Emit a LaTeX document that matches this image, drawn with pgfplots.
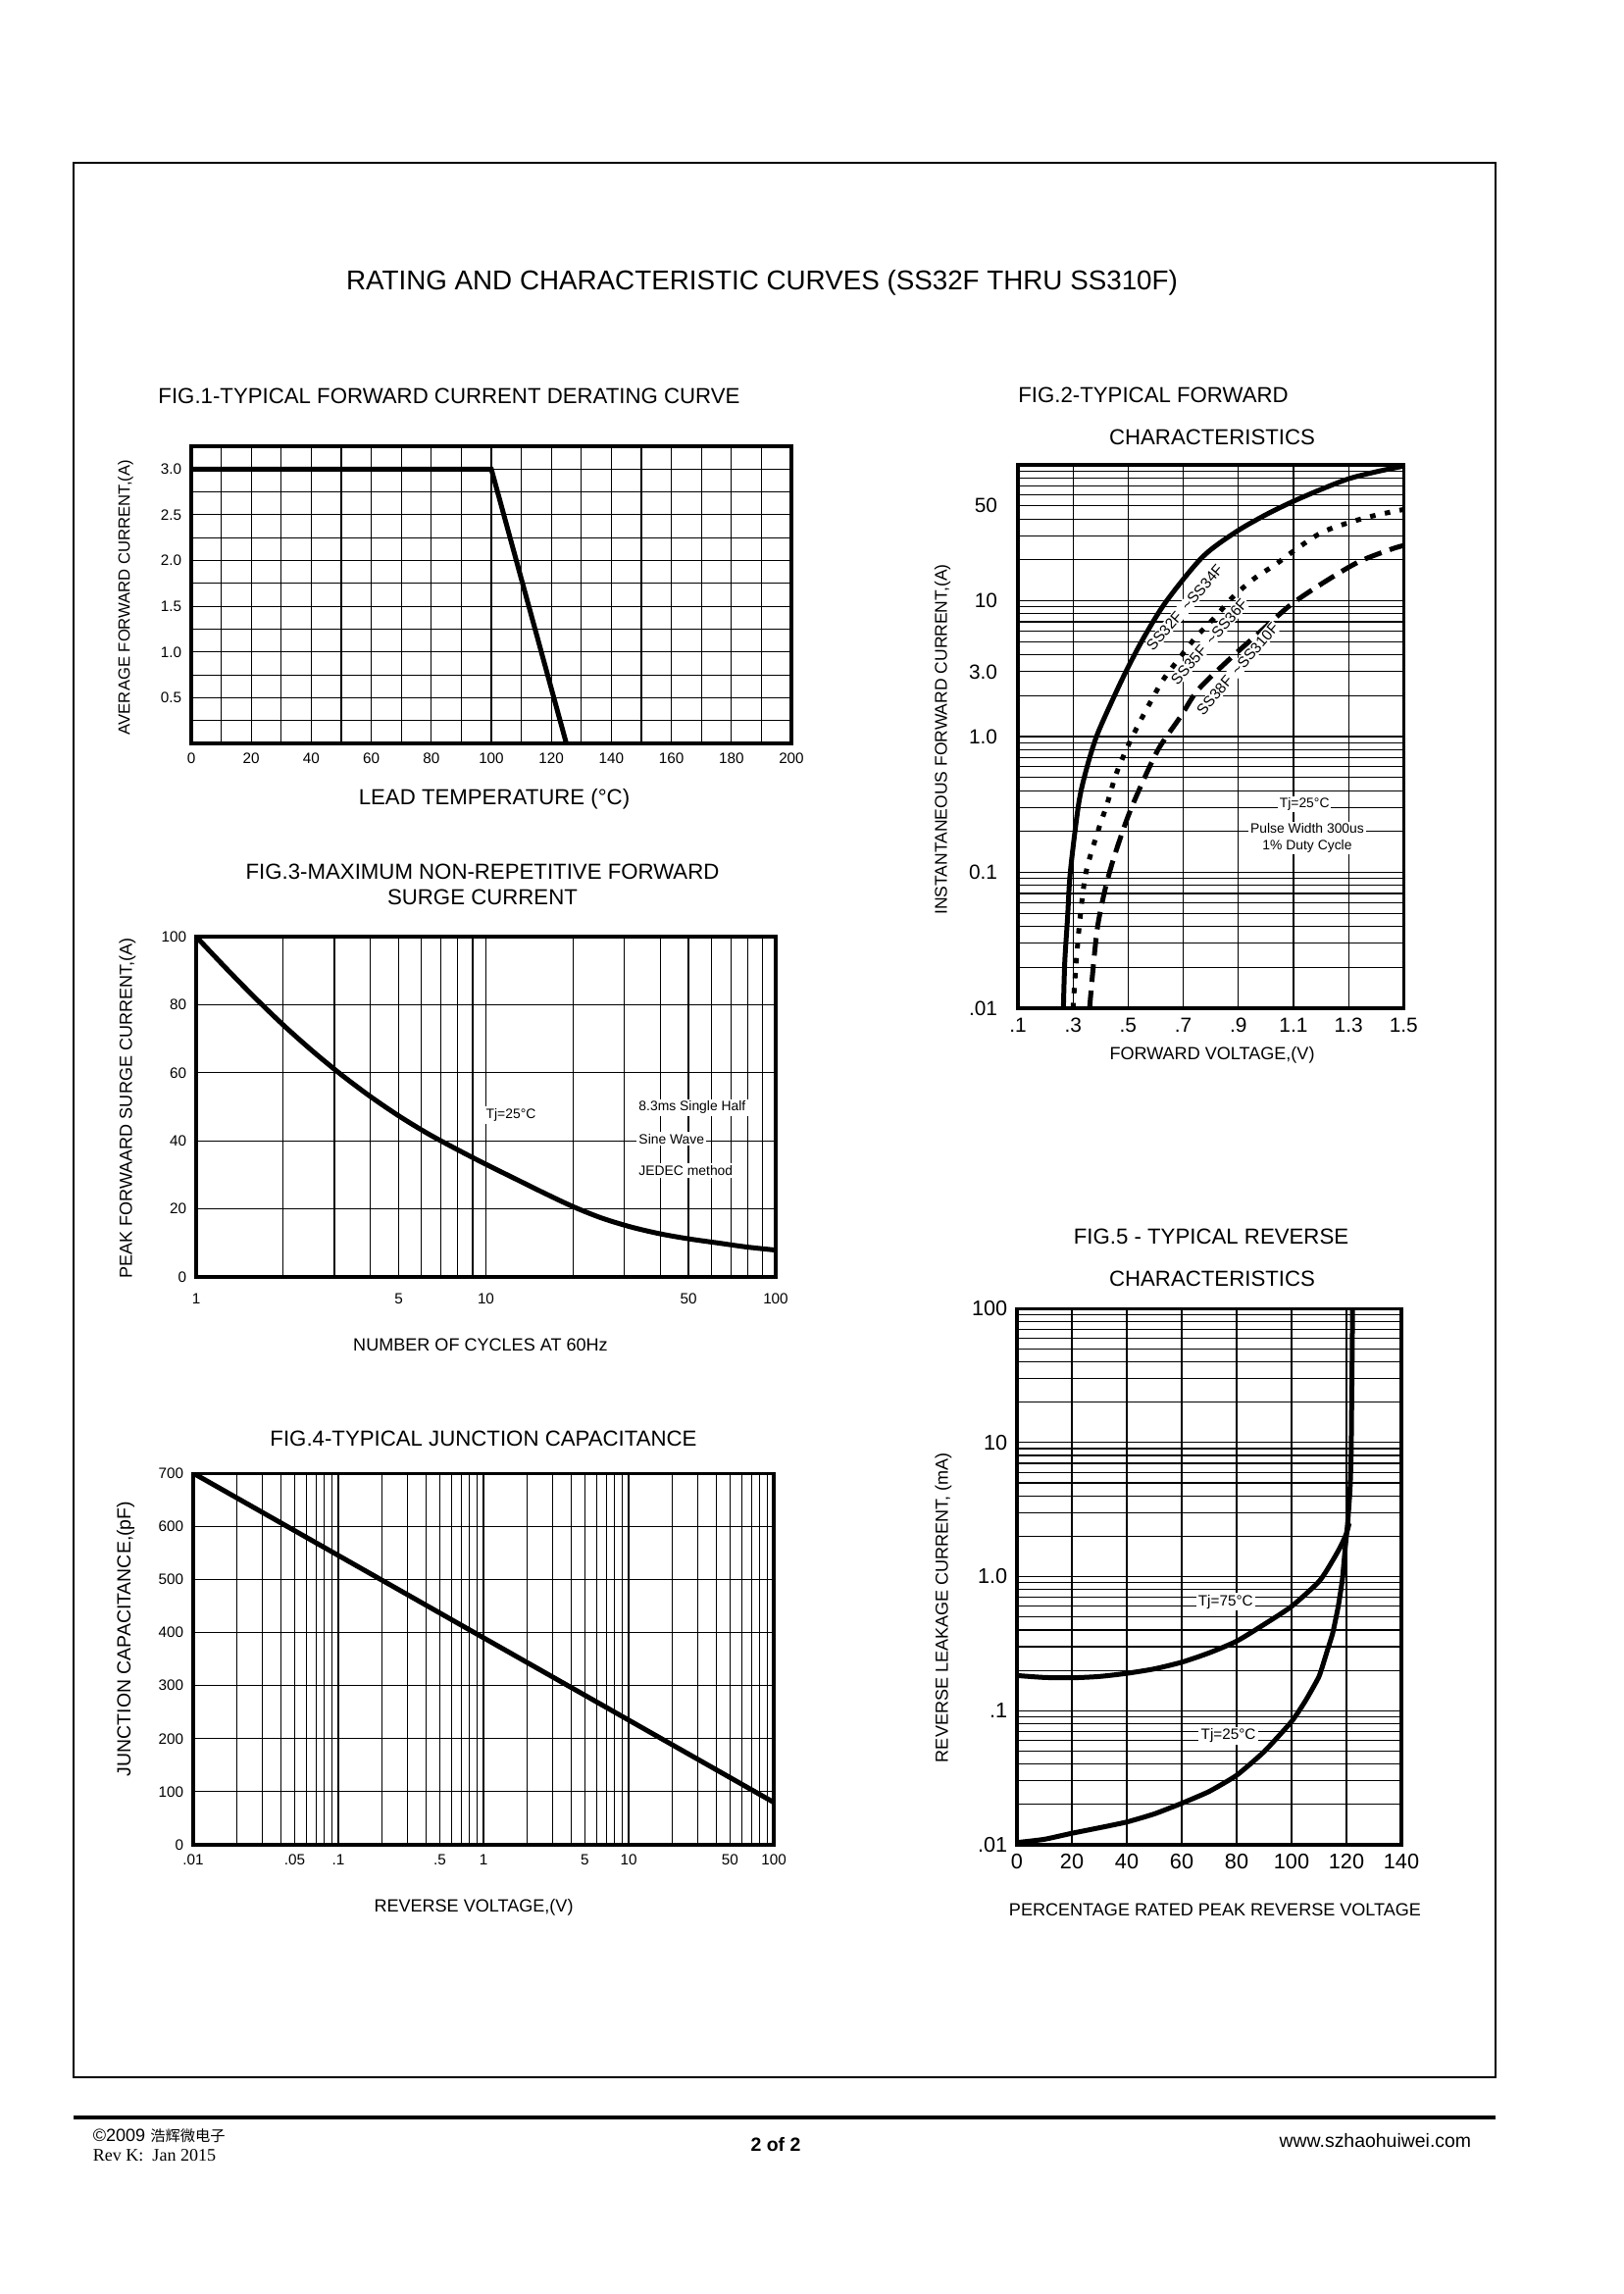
\documentclass[border=0pt]{standalone}
\usepackage{fontspec}
\setmainfont{Liberation Sans}
\newfontfamily\cjk{Noto Sans CJK SC}
\newfontfamily\seriffont{Liberation Serif}
\usepackage{pgfplots}
\pgfplotsset{compat=1.18}
\newcommand{\fs}[1]{\fontsize{#1}{#1}\selectfont}
\def\s{0.36pt}
\pgfplotsset{
  dsaxis/.style={
    scale only axis, anchor=south west,
    axis line style={line width=1.1pt},
    major tick length=0pt, minor tick length=0pt,
    grid=both,
    major grid style={black, line width=0.4pt},
    minor grid style={black, line width=0.4pt},
    /pgf/number format/assume math mode=true,
    clip=true,
  },
  logminory/.style={minor ytick={0.02,0.03,0.04,0.05,0.06,0.07,0.08,0.09,0.2,0.3,0.4,0.5,0.6,0.7,0.8,0.9,2,3,4,5,6,7,8,9,20,30,40,50,60,70,80,90}},
  curve/.style={black, line width=1.8pt, no marks},
}
\begin{document}
\begin{tikzpicture}
\path (0,0) rectangle (1656*\s,-2339*\s);
\draw[line width=0.8pt] (75*\s,-166*\s) rectangle (1525*\s,-2118*\s);
\node[font=\fs{10}] at (777*\s,-288*\s) {RATING AND CHARACTERISTIC CURVES (SS32F THRU SS310F)};

% ---------------- FIG 1
\node[font=\fs{8}] at (458*\s,-404*\s) {FIG.1-TYPICAL FORWARD CURRENT DERATING CURVE};
\begin{axis}[dsaxis, at={(70.2pt,-272.88pt)}, width=220.32pt, height=109.08pt,
  xmin=0,xmax=200,ymin=0,ymax=3.25,
  xtick={0,20,40,60,80,100,120,140,160,180,200}, minor xtick={10,30,50,70,90,110,130,150,170,190},
  ytick={0.5,1,1.5,2,2.5,3}, minor ytick={0.25,0.75,1.25,1.75,2.25,2.75},
  yticklabel style={/pgf/number format/.cd, fixed, fixed zerofill, precision=1},
  ticklabel style={font=\fs{5.5}},
]
\addplot[curve] coordinates {(0,3) (100,3) (125,0)};
\end{axis}
\node[rotate=90, font=\fs{6}] at (128*\s,-609*\s) {AVERAGE FORWARD CURRENT,(A)};
\node[font=\fs{8}] at (504*\s,-815*\s) {LEAD TEMPERATURE (°C)};

% ---------------- FIG 2
\node[font=\fs{8}] at (1176*\s,-403*\s) {FIG.2-TYPICAL FORWARD};
\node[font=\fs{8}] at (1236*\s,-446*\s) {CHARACTERISTICS};
\begin{axis}[dsaxis, logminory, at={(373.68pt,-370.08pt)}, width=141.6pt, height=199.44pt,
  xmin=0.1,xmax=1.5, ymode=log, ymin=0.01, ymax=100,
  xtick={0.1,0.3,0.5,0.7,0.9,1.1,1.3,1.5}, xticklabels={.1,.3,.5,.7,.9,1.1,1.3,1.5},
  ytick={0.01,0.1,1,3,10,50}, yticklabels={.01,0.1,1.0,3.0,10,50},
  ticklabel style={font=\fs{7.5}},
  yticklabel style={xshift=-4pt},
]
\addplot[curve, smooth, tension=0.5] coordinates {(0.265,0.01) (0.27,0.022) (0.28,0.046) (0.29,0.1) (0.32,0.316) (0.347,0.56) (0.385,1) (0.44,1.8) (0.495,3.1) (0.56,5.5) (0.64,10) (0.77,21) (0.89,32) (1.0,43) (1.1,54) (1.2,66) (1.3,79) (1.4,89) (1.5,98)};
\addplot[curve, dash pattern=on 2pt off 3.5pt, smooth, tension=0.5] coordinates {(0.30,0.01) (0.31,0.02) (0.325,0.045) (0.347,0.1) (0.39,0.2) (0.423,0.316) (0.455,0.52) (0.493,0.8) (0.535,1.2) (0.58,1.78) (0.626,2.6) (0.687,3.8) (0.746,5.4) (0.816,7.6) (0.883,10.8) (0.96,14.7) (1.035,18.5) (1.11,24) (1.2,31.6) (1.29,37) (1.386,42) (1.5,47)};
\addplot[curve, dash pattern=on 6.5pt off 3.2pt, smooth, tension=0.5] coordinates {(0.36,0.01) (0.375,0.022) (0.39,0.041) (0.417,0.076) (0.449,0.13) (0.5,0.26) (0.556,0.48) (0.613,0.83) (0.69,1.4) (0.753,2.2) (0.867,3.7) (0.975,5.8) (1.089,9.3) (1.209,13.6) (1.336,19.3) (1.456,24) (1.5,25.5)};
\node[rotate=49, fill=white, inner sep=0.5pt, font=\fs{5.5}] at (axis cs:0.705,8.9) {SS32F\hspace{0.5em}\textasciitilde SS34F};
\node[rotate=49, fill=white, inner sep=0.5pt, font=\fs{5.5}] at (axis cs:0.794,5.0) {SS35F\hspace{0.5em}\textasciitilde SS36F};
\node[rotate=49, fill=white, inner sep=0.5pt, font=\fs{5.5}] at (axis cs:0.897,3.15) {SS38F\hspace{0.5em}\textasciitilde SS310F};
\node[fill=white, inner sep=0.6pt, font=\fs{5}] at (axis cs:1.14,0.316) {Tj=25°C};
\node[fill=white, inner sep=0.6pt, font=\fs{5}, align=center] at (axis cs:1.15,0.18) {Pulse Width 300us\\[1pt]1\% Duty Cycle};
\end{axis}
\node[rotate=90, font=\fs{6.3}] at (961*\s,-754*\s) {INSTANTANEOUS FORWARD CURRENT,(A)};
\node[font=\fs{6.5}] at (1236*\s,-1076*\s) {FORWARD VOLTAGE,(V)};

% ---------------- FIG 3
\node[font=\fs{8}] at (492*\s,-889*\s) {FIG.3-MAXIMUM NON-REPETITIVE FORWARD};
\node[font=\fs{8}] at (492*\s,-915*\s) {SURGE CURRENT};
\begin{axis}[dsaxis, at={(72pt,-468.72pt)}, width=212.76pt, height=124.92pt,
  xmode=log, xmin=1, xmax=100, ymin=0, ymax=100,
  xtick={1,5,10,50,100}, xticklabels={1,5,10,50,100},
  minor xtick={2,3,4,6,7,8,9,20,30,40,60,70,80,90},
  ytick={0,20,40,60,80,100}, ymajorgrids=true, yminorgrids=false,
  ticklabel style={font=\fs{5.5}},
  xticklabel style={yshift=-2.5pt},
]
\addplot[curve, smooth, tension=0.5] coordinates {(1,100) (1.259,91) (1.585,82.3) (1.995,74.1) (2.512,66.5) (3.162,59.5) (3.981,53.1) (5.012,47.3) (6.310,42.1) (7.943,37.5) (10,33.1) (12.59,28.9) (15.85,24.7) (19.95,20.7) (25.12,17.3) (31.62,14.7) (39.81,12.7) (50.12,11.2) (63.10,10.0) (79.43,8.8) (100,7.9)};
\node[fill=white, inner sep=0.8pt, font=\fs{5}] at (axis cs:12.2,47.5) {Tj=25°C};
\node[fill=white, inner sep=0.8pt, font=\fs{5}, anchor=west] at (axis cs:33,49.8) {8.3ms Single Half};
\node[fill=white, inner sep=0.8pt, font=\fs{5}, anchor=west] at (axis cs:33,40.6) {Sine Wave};
\node[fill=white, inner sep=0.8pt, font=\fs{5}, anchor=west] at (axis cs:33,31.3) {JEDEC method};
\end{axis}
\node[rotate=90, font=\fs{6.5}] at (130*\s,-1130*\s) {PEAK FORWAARD SURGE CURRENT,(A)};
\node[font=\fs{6.5}] at (490*\s,-1371*\s) {NUMBER OF CYCLES AT 60Hz};

% ---------------- FIG 4
\node[font=\fs{8}] at (493*\s,-1467*\s) {FIG.4-TYPICAL JUNCTION CAPACITANCE};
\begin{axis}[dsaxis, at={(70.92pt,-677.16pt)}, width=213.12pt, height=136.44pt,
  xmode=log, xmin=0.01, xmax=100, ymin=0, ymax=700,
  xtick={0.01,0.05,0.1,0.5,1,5,10,50,100}, xticklabels={.01,.05,.1,.5,1,5,10,50,100},
  minor xtick={0.02,0.03,0.04,0.06,0.07,0.08,0.09,0.2,0.3,0.4,0.6,0.7,0.8,0.9,2,3,4,6,7,8,9,20,30,40,60,70,80,90},
  ytick={0,100,200,300,400,500,600,700}, ymajorgrids=true, yminorgrids=false,
  ticklabel style={font=\fs{5.5}},
]
\addplot[curve] coordinates {(0.01,700) (100,80)};
\end{axis}
\node[rotate=90, font=\fs{7}] at (128*\s,-1671*\s) {JUNCTION CAPACITANCE,(pF)};
\node[font=\fs{6.5}] at (483*\s,-1945*\s) {REVERSE VOLTAGE,(V)};

% ---------------- FIG 5
\node[font=\fs{8}] at (1235*\s,-1261*\s) {FIG.5 - TYPICAL REVERSE};
\node[font=\fs{8}] at (1236*\s,-1304*\s) {CHARACTERISTICS};
\begin{axis}[dsaxis, logminory, at={(373.32pt,-677.16pt)}, width=141.12pt, height=196.92pt,
  xmin=0, xmax=140, ymode=log, ymin=0.01, ymax=100,
  xtick={0,20,40,60,80,100,120,140}, xminorgrids=false,
  ytick={0.01,0.1,1,10,100}, yticklabels={.01,.1,1.0,10,100},
  ticklabel style={font=\fs{7.8}},
]
\addplot[curve, smooth, tension=0.4] coordinates {(0,0.183) (10,0.177) (20,0.176) (30,0.18) (40,0.19) (50,0.205) (60,0.23) (70,0.27) (80,0.33) (90,0.44) (100,0.6) (110,0.92) (115,1.32) (118,1.7) (120,2.1) (121,2.5)};
\addplot[curve, smooth, tension=0.3] coordinates {(0,0.0104) (10,0.011) (20,0.0122) (30,0.0134) (40,0.0148) (50,0.017) (60,0.0204) (70,0.025) (80,0.033) (90,0.0495) (100,0.083) (105,0.118) (110,0.18) (113,0.28) (115,0.38) (117,0.6) (118.5,0.95) (119.5,1.6) (120.5,2.6) (121.3,4.5) (121.7,8) (121.9,20) (122.1,50) (122.2,100)};
\node[fill=white, inner sep=0.8pt, font=\fs{5.5}] at (axis cs:76,0.65) {Tj=75°C};
\node[fill=white, inner sep=0.8pt, font=\fs{5.5}] at (axis cs:77,0.065) {Tj=25°C};
\end{axis}
\node[rotate=90, font=\fs{6.5}] at (962*\s,-1639*\s) {REVERSE LEAKAGE CURRENT, (mA)};
\node[font=\fs{6.5}] at (1239*\s,-1947*\s) {PERCENTAGE RATED PEAK REVERSE VOLTAGE};

% ---------------- footer
\draw[line width=1.2pt] (75*\s,-2159*\s) -- (1525*\s,-2159*\s);
\node[anchor=west, font=\fs{6.5}] at (85*\s,-2178*\s) {©2009 {\cjk\fs{5.5}浩辉微电子}};
\node[anchor=west, font=\seriffont\fs{6.5}] at (85*\s,-2198*\s) {Rev K:\ \ Jan 2015};
\node[font=\bfseries\fs{7}] at (791*\s,-2187*\s) {2 of 2};
\node[anchor=east, font=\fs{7}] at (1510*\s,-2183*\s) {www.szhaohuiwei.com};
\end{tikzpicture}
\end{document}
